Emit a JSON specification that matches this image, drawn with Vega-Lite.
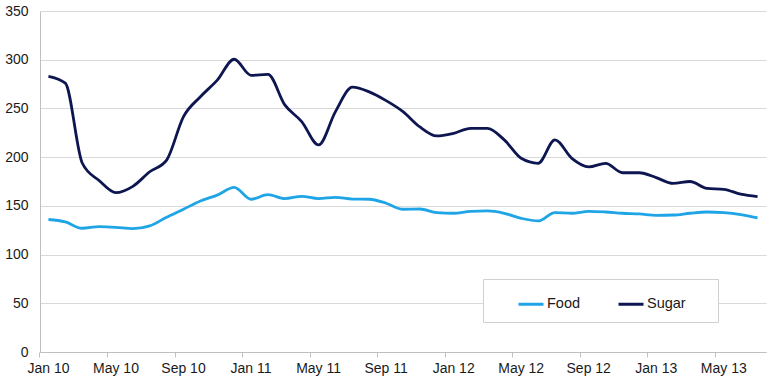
{
  "$schema": "https://vega.github.io/schema/vega-lite/v6.json",
  "width": 726,
  "height": 341,
  "autosize": {"type": "none"},
  "padding": {"left": 40, "top": 11, "right": 4, "bottom": 30},
  "background": "white",
  "config": {
    "view": {"stroke": null},
    "font": "Liberation Sans",
    "axis": {"labelFont": "Liberation Sans", "labelFontSize": 14, "labelColor": "#1a1a1a"}
  },
  "data": {
    "values": [
      {"month": "Jan 10", "series": "Food", "value": 136},
      {"month": "Feb 10", "series": "Food", "value": 133.5},
      {"month": "Mar 10", "series": "Food", "value": 127},
      {"month": "Apr 10", "series": "Food", "value": 128.7},
      {"month": "May 10", "series": "Food", "value": 128},
      {"month": "Jun 10", "series": "Food", "value": 126.6},
      {"month": "Jul 10", "series": "Food", "value": 129.4},
      {"month": "Aug 10", "series": "Food", "value": 138.3},
      {"month": "Sep 10", "series": "Food", "value": 146.5},
      {"month": "Oct 10", "series": "Food", "value": 155},
      {"month": "Nov 10", "series": "Food", "value": 161},
      {"month": "Dec 10", "series": "Food", "value": 169},
      {"month": "Jan 11", "series": "Food", "value": 156.8},
      {"month": "Feb 11", "series": "Food", "value": 161.5},
      {"month": "Mar 11", "series": "Food", "value": 157.4},
      {"month": "Apr 11", "series": "Food", "value": 159.8},
      {"month": "May 11", "series": "Food", "value": 157.4},
      {"month": "Jun 11", "series": "Food", "value": 158.8},
      {"month": "Jul 11", "series": "Food", "value": 157},
      {"month": "Aug 11", "series": "Food", "value": 156.8},
      {"month": "Sep 11", "series": "Food", "value": 152.7},
      {"month": "Oct 11", "series": "Food", "value": 146.5},
      {"month": "Nov 11", "series": "Food", "value": 146.8},
      {"month": "Dec 11", "series": "Food", "value": 143},
      {"month": "Jan 12", "series": "Food", "value": 142.4},
      {"month": "Feb 12", "series": "Food", "value": 144.4},
      {"month": "Mar 12", "series": "Food", "value": 144.8},
      {"month": "Apr 12", "series": "Food", "value": 142.4},
      {"month": "May 12", "series": "Food", "value": 137.2},
      {"month": "Jun 12", "series": "Food", "value": 134.5},
      {"month": "Jul 12", "series": "Food", "value": 143},
      {"month": "Aug 12", "series": "Food", "value": 142.4},
      {"month": "Sep 12", "series": "Food", "value": 144.4},
      {"month": "Oct 12", "series": "Food", "value": 143.7},
      {"month": "Nov 12", "series": "Food", "value": 142.4},
      {"month": "Dec 12", "series": "Food", "value": 141.7},
      {"month": "Jan 13", "series": "Food", "value": 140.3},
      {"month": "Feb 13", "series": "Food", "value": 140.6},
      {"month": "Mar 13", "series": "Food", "value": 142.4},
      {"month": "Apr 13", "series": "Food", "value": 143.7},
      {"month": "May 13", "series": "Food", "value": 143},
      {"month": "Jun 13", "series": "Food", "value": 141},
      {"month": "Jul 13", "series": "Food", "value": 137.6},
      {"month": "Jan 10", "series": "Sugar", "value": 283},
      {"month": "Feb 10", "series": "Sugar", "value": 276},
      {"month": "Mar 10", "series": "Sugar", "value": 194},
      {"month": "Apr 10", "series": "Sugar", "value": 176},
      {"month": "May 10", "series": "Sugar", "value": 163.5},
      {"month": "Jun 10", "series": "Sugar", "value": 170},
      {"month": "Jul 10", "series": "Sugar", "value": 185},
      {"month": "Aug 10", "series": "Sugar", "value": 197},
      {"month": "Sep 10", "series": "Sugar", "value": 241.6},
      {"month": "Oct 10", "series": "Sugar", "value": 262},
      {"month": "Nov 10", "series": "Sugar", "value": 279},
      {"month": "Dec 10", "series": "Sugar", "value": 300.5},
      {"month": "Jan 11", "series": "Sugar", "value": 284},
      {"month": "Feb 11", "series": "Sugar", "value": 285},
      {"month": "Mar 11", "series": "Sugar", "value": 253.6},
      {"month": "Apr 11", "series": "Sugar", "value": 236.5},
      {"month": "May 11", "series": "Sugar", "value": 212.5},
      {"month": "Jun 11", "series": "Sugar", "value": 246.7},
      {"month": "Jul 11", "series": "Sugar", "value": 271.8},
      {"month": "Aug 11", "series": "Sugar", "value": 267},
      {"month": "Sep 11", "series": "Sugar", "value": 258},
      {"month": "Oct 11", "series": "Sugar", "value": 246.7},
      {"month": "Nov 11", "series": "Sugar", "value": 231},
      {"month": "Dec 11", "series": "Sugar", "value": 221.8},
      {"month": "Jan 12", "series": "Sugar", "value": 224.5},
      {"month": "Feb 12", "series": "Sugar", "value": 229.6},
      {"month": "Mar 12", "series": "Sugar", "value": 229.6},
      {"month": "Apr 12", "series": "Sugar", "value": 217.7},
      {"month": "May 12", "series": "Sugar", "value": 198.8},
      {"month": "Jun 12", "series": "Sugar", "value": 193.7},
      {"month": "Jul 12", "series": "Sugar", "value": 217.7},
      {"month": "Aug 12", "series": "Sugar", "value": 198.8},
      {"month": "Sep 12", "series": "Sugar", "value": 190},
      {"month": "Oct 12", "series": "Sugar", "value": 193.7},
      {"month": "Nov 12", "series": "Sugar", "value": 184},
      {"month": "Dec 12", "series": "Sugar", "value": 184},
      {"month": "Jan 13", "series": "Sugar", "value": 179},
      {"month": "Feb 13", "series": "Sugar", "value": 173},
      {"month": "Mar 13", "series": "Sugar", "value": 175},
      {"month": "Apr 13", "series": "Sugar", "value": 168},
      {"month": "May 13", "series": "Sugar", "value": 167},
      {"month": "Jun 13", "series": "Sugar", "value": 162},
      {"month": "Jul 13", "series": "Sugar", "value": 159.5}
    ]
  },
  "mark": {"type": "line", "interpolate": "monotone", "strokeWidth": 2.8},
  "encoding": {
    "x": {
      "field": "month",
      "type": "ordinal",
      "sort": null,
      "scale": {"type": "band", "paddingInner": 0, "paddingOuter": 0},
      "axis": {
        "title": null,
        "labelExpr": "indexof(['Jan 10','May 10','Sep 10','Jan 11','May 11','Sep 11','Jan 12','May 12','Sep 12','Jan 13','May 13'], datum.label) >= 0 ? datum.label : ''",
        "bandPosition": 0,
        "labelAngle": 0,
        "labelOverlap": false,
        "labelBound": false,
        "labelFlush": false,
        "domain": true,
        "domainColor": "#bfbfbf",
        "ticks": true,
        "tickColor": "#bfbfbf",
        "tickOpacity": {
          "condition": {"test": "indexof(['Jan 10','May 10','Sep 10','Jan 11','May 11','Sep 11','Jan 12','May 12','Sep 12','Jan 13','May 13'], datum.value) >= 0", "value": 1},
          "value": 0
        },
        "tickSize": 5,
        "labelPadding": 4,
        "grid": false
      }
    },
    "y": {
      "field": "value",
      "type": "quantitative",
      "scale": {"domain": [0, 350], "nice": false, "zero": true},
      "axis": {
        "title": null,
        "values": [0, 50, 100, 150, 200, 250, 300, 350],
        "ticks": false,
        "labelPadding": 12,
        "domain": true,
        "domainColor": "#bfbfbf",
        "gridColor": "#d9d9d9",
        "gridWidth": 1
      }
    },
    "color": {
      "field": "series",
      "type": "nominal",
      "scale": {"domain": ["Food", "Sugar"], "range": ["#1fa5e6", "#0d1650"]},
      "legend": {
        "title": "\u00a0",
        "titleOrient": "right",
        "titlePadding": 21,
        "titleFontSize": 14,
        "orient": "none",
        "legendX": 443,
        "legendY": 268,
        "direction": "horizontal",
        "symbolType": "stroke",
        "symbolSize": 625,
        "symbolStrokeWidth": 3,
        "symbolOffset": 23,
        "labelFont": "Liberation Sans",
        "labelFontSize": 14.5,
        "labelColor": "#1a1a1a",
        "labelOffset": 2,
        "columnPadding": 13,
        "padding": 11,
        "strokeColor": "#d0d0d0",
        "fillColor": "white",
        "cornerRadius": 0
      }
    }
  }
}
